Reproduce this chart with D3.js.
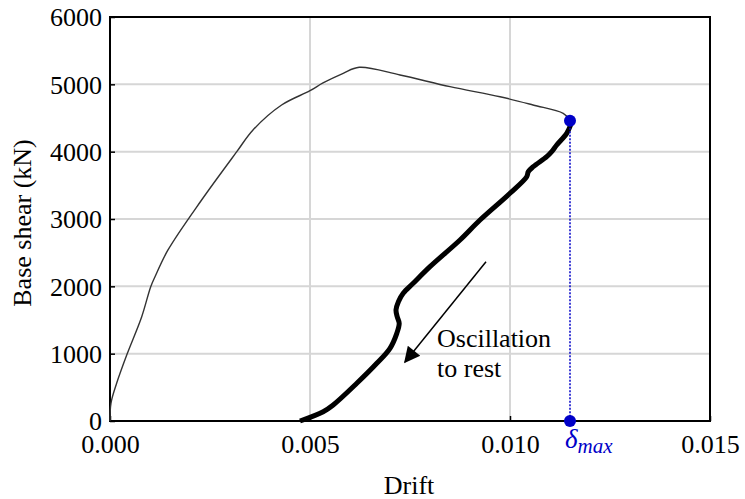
<!DOCTYPE html>
<html><head><meta charset="utf-8">
<script src="https://cdn.jsdelivr.net/npm/d3@7"></script>
<style>body{margin:0;background:#fff}svg{display:block}</style>
</head><body><svg id="c" width="745" height="499" font-family="Liberation Serif"></svg>
<script>
const xTicks = [0, 0.005, 0.010, 0.015];
const xTickLabels = ["0.000", "0.005", "0.010", "0.015"];
const yTicks = [0, 1000, 2000, 3000, 4000, 5000, 6000];
// pushover (thin) curve: [drift, base shear kN]
const pushDrift = [0, 0.000025, 0.000168, 0.000418, 0.000793, 0.001018, 0.001125, 0.00145, 0.00229, 0.00317, 0.003575, 0.00429, 0.005, 0.005325, 0.00583, 0.00623, 0.00725, 0.0085, 0.00975, 0.010575, 0.01133, 0.0115];
const pushShear = [0, 267, 564, 980, 1549, 1995, 2143, 2540, 3282, 4000, 4322, 4693, 4905, 5020, 5164, 5253, 5139, 4965, 4816, 4693, 4570, 4470];
// oscillation to rest (thick) curve
const restDrift = [0.011525, 0.011418, 0.011168, 0.011043, 0.010918, 0.010583, 0.010458, 0.010418, 0.01, 0.00925, 0.00875, 0.008, 0.00758, 0.00733, 0.00721, 0.00715, 0.00718, 0.00723, 0.00717, 0.007, 0.00667, 0.00617, 0.00558, 0.00533, 0.00475];
const restShear = [4411, 4273, 4099, 4000, 3925, 3777, 3703, 3628, 3382, 2985, 2688, 2292, 2045, 1897, 1772, 1649, 1549, 1451, 1302, 1080, 857, 560, 238, 138, 0];
const deltaMax = [0.0115, 4460];
const arrowFrom = [0.0094, 2366];
const arrowTo = [0.007375, 877];

const svg = d3.select("#c");
const L = 110, R = 710, T = 17, B = 421;
const x = d3.scaleLinear().domain([0, 0.015]).range([L, R]);
const y = d3.scaleLinear().domain([0, 6000]).range([B, T]);
const blue = "#0000c8";

// grid
svg.append("g").selectAll("line").data(xTicks.slice(1, -1)).join("line")
  .attr("x1", d => x(d)).attr("x2", d => x(d)).attr("y1", T).attr("y2", B)
  .attr("stroke", "#d6d6d6").attr("stroke-width", 2);
svg.append("g").selectAll("line").data(yTicks.slice(1, -1)).join("line")
  .attr("y1", d => y(d)).attr("y2", d => y(d)).attr("x1", L).attr("x2", R)
  .attr("stroke", "#d6d6d6").attr("stroke-width", 2);

// axes
const xAxis = svg.append("g").attr("transform", `translate(0,${B})`)
  .call(d3.axisBottom(x).tickValues(xTicks).tickFormat((d, i) => xTickLabels[i]).tickSizeInner(-5).tickSizeOuter(0).tickPadding(14));
const yAxis = svg.append("g").attr("transform", `translate(${L},0)`)
  .call(d3.axisLeft(y).tickValues(yTicks).tickFormat(d3.format("d")).tickSizeInner(-5).tickSizeOuter(0).tickPadding(8));
[xAxis, yAxis].forEach(g => {
  g.attr("font-family", "Liberation Serif");
  g.select(".domain").remove();
  g.selectAll("line").attr("stroke", "#000").attr("stroke-width", 1.5);
  g.selectAll("text").attr("font-size", 26).attr("fill", "#000").attr("font-family", "Liberation Serif");
});
xAxis.selectAll("text").attr("dy", "0.7em");
yAxis.selectAll("text").attr("dy", "0.34em");
svg.append("rect").attr("x", L).attr("y", T).attr("width", R - L).attr("height", B - T)
  .attr("fill", "none").attr("stroke", "#000").attr("stroke-width", 2);

// curves
svg.append("path").datum(pushDrift.map((d, i) => [d, pushShear[i]]))
  .attr("d", d3.line().x(d => x(d[0])).y(d => y(d[1])).curve(d3.curveCatmullRom.alpha(0.5)))
  .attr("fill", "none").attr("stroke", "#333").attr("stroke-width", 1.4);
svg.append("path").datum(restDrift.map((d, i) => [d, restShear[i]]))
  .attr("d", d3.line().x(d => x(d[0])).y(d => y(d[1])).curve(d3.curveCatmullRom))
  .attr("fill", "none").attr("stroke", "#000").attr("stroke-width", 5).attr("stroke-linejoin", "round");

// delta max
svg.append("line").attr("x1", x(deltaMax[0])).attr("x2", x(deltaMax[0]))
  .attr("y1", y(deltaMax[1])).attr("y2", y(0))
  .attr("stroke", blue).attr("stroke-width", 1.5).attr("stroke-dasharray", "2,1.5");
svg.append("circle").attr("cx", x(deltaMax[0])).attr("cy", y(deltaMax[1])).attr("r", 6).attr("fill", blue);
svg.append("circle").attr("cx", x(deltaMax[0])).attr("cy", y(0)).attr("r", 6).attr("fill", blue);
const dl = svg.append("text").attr("x", x(deltaMax[0]) - 5).attr("y", 448).attr("font-family", "Liberation Serif")
  .attr("fill", blue).attr("font-style", "italic").attr("font-size", 27);
dl.append("tspan").text("δ");
dl.append("tspan").attr("font-size", 21).attr("dy", 5).text("max");

// arrow
svg.append("defs").append("marker").attr("id", "ah").attr("viewBox", "0 0 10 10")
  .attr("refX", 9).attr("refY", 5).attr("markerWidth", 20).attr("markerHeight", 16)
  .attr("markerUnits", "userSpaceOnUse").attr("orient", "auto")
  .append("path").attr("d", "M0,0L10,5L0,10z").attr("fill", "#000");
svg.append("line").attr("x1", x(arrowFrom[0])).attr("y1", y(arrowFrom[1]))
  .attr("x2", x(arrowTo[0])).attr("y2", y(arrowTo[1]))
  .attr("stroke", "#000").attr("stroke-width", 1.5).attr("marker-end", "url(#ah)");
svg.append("text").attr("x", 437).attr("y", 347).attr("font-size", 26).attr("font-family", "Liberation Serif").text("Oscillation");
svg.append("text").attr("x", 437).attr("y", 377).attr("font-size", 26).attr("font-family", "Liberation Serif").text("to rest");

// axis titles
svg.append("text").attr("x", 409).attr("y", 494).attr("text-anchor", "middle").attr("font-size", 26).attr("font-family", "Liberation Serif").text("Drift");
svg.append("text").attr("transform", `translate(31,223) rotate(-90)`).attr("text-anchor", "middle")
  .attr("font-size", 26).attr("font-family", "Liberation Serif").text("Base shear (kN)");
</script></body></html>
